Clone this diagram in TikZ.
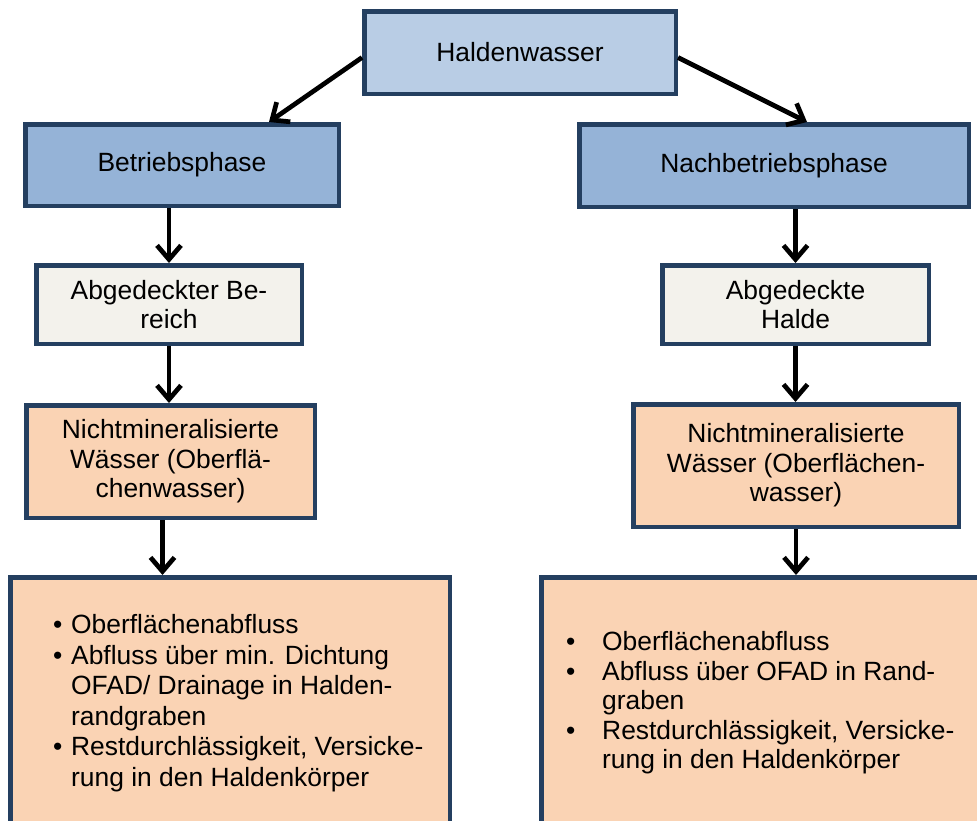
\documentclass[tikz,border=0pt]{standalone}
\usepackage{fontspec}
\setmainfont{Liberation Sans}
\usetikzlibrary{arrows.meta}
\definecolor{bordercol}{HTML}{243F60}
\definecolor{topfill}{HTML}{B9CDE5}
\definecolor{phasefill}{HTML}{95B3D7}
\definecolor{greyfill}{HTML}{F3F2EC}
\definecolor{orangefill}{HTML}{FAD3B4}
\begin{document}
\begin{tikzpicture}[x=1pt,y=1pt,
  box/.style={draw=bordercol, line width=4.5pt, inner sep=0pt, align=center,
    font=\fontsize{26.4}{29.5}\selectfont},
  arr/.style={line width=4.7pt, -{Straight Barb[length=14pt,width=24pt]}},
  listtxt/.style={anchor=north west, align=left, inner sep=0pt}]
\useasboundingbox (0,0) rectangle (977,-820);
\clip (0,0) rectangle (977,-820);
\node[box, fill=topfill, minimum width=311.5pt, minimum height=82.5pt] (H) at (520,-52.5) {Haldenwasser};
\node[box, fill=phasefill, minimum width=313.5pt, minimum height=81.5pt] (B) at (182,-165) {Betriebsphase};
\node[box, fill=phasefill, minimum width=389.5pt, minimum height=82.5pt] (N) at (774,-165.5) {Nachbetriebsphase};
\node[box, fill=greyfill, minimum width=265.5pt, minimum height=78.5pt] (A) at (169,-304.5) {Abgedeckter Be-\\reich};
\node[box, fill=greyfill, minimum width=266.5pt, minimum height=78.5pt] (AH) at (795.5,-304.5) {Abgedeckte\\Halde};
\node[box, fill=orangefill, minimum width=288.5pt, minimum height=112.5pt] (N1) at (170.5,-461.5) {Nichtmineralisierte\\Wässer (Oberflä-\\chenwasser)};
\node[box, fill=orangefill, minimum width=325.5pt, minimum height=122.5pt] (N2) at (796,-465.5) {Nichtmineralisierte\\Wässer (Oberflächen-\\wasser)};
\node[box, fill=orangefill, minimum width=439.5pt, minimum height=290.5pt] (L) at (230,-722.5) {};
\node[box, fill=orangefill, minimum width=466.5pt, minimum height=290.5pt] (R) at (774.5,-722.5) {};
\node[listtxt, font=\fontsize{26.4}{30.5}\selectfont] (Ltxt) at (53,-614.5) {\makebox[18pt][l]{•}Oberflächenabfluss\\
\makebox[18pt][l]{•}Abfluss über min. Dichtung\\
\hspace*{18pt}OFAD/ Drainage in Halden-\\
\hspace*{18pt}randgraben\\
\makebox[18pt][l]{•}Restdurchlässigkeit, Versicke-\\
\hspace*{18pt}rung in den Haldenkörper};
\node[listtxt, font=\fontsize{26.4}{29.5}\selectfont] (Rtxt) at (566,-631.5) {\makebox[36pt][l]{•}Oberflächenabfluss\\
\makebox[36pt][l]{•}Abfluss über OFAD in Rand-\\
\hspace*{36pt}graben\\
\makebox[36pt][l]{•}Restdurchlässigkeit, Versicke-\\
\hspace*{36pt}rung in den Haldenkörper};
\draw[arr] ([yshift=-5pt]H.west) -- ([xshift=87pt]B.north);
\draw[arr] ([yshift=-5pt]H.east) -- ([xshift=-164pt]N.north east);
\draw[arr] (A.north |- B.south) -- (A.north);
\draw[arr] (A.south) -- (A.south |- N1.north);
\draw[arr] ([xshift=-8pt]N1.south) -- ([xshift=-8pt]N1.south |- L.north);
\draw[arr] (AH.north |- N.south) -- (AH.north);
\draw[arr] (AH.south) -- (AH.south |- N2.north);
\draw[arr] (N2.south) -- (N2.south |- R.north);
\end{tikzpicture}
\end{document}
